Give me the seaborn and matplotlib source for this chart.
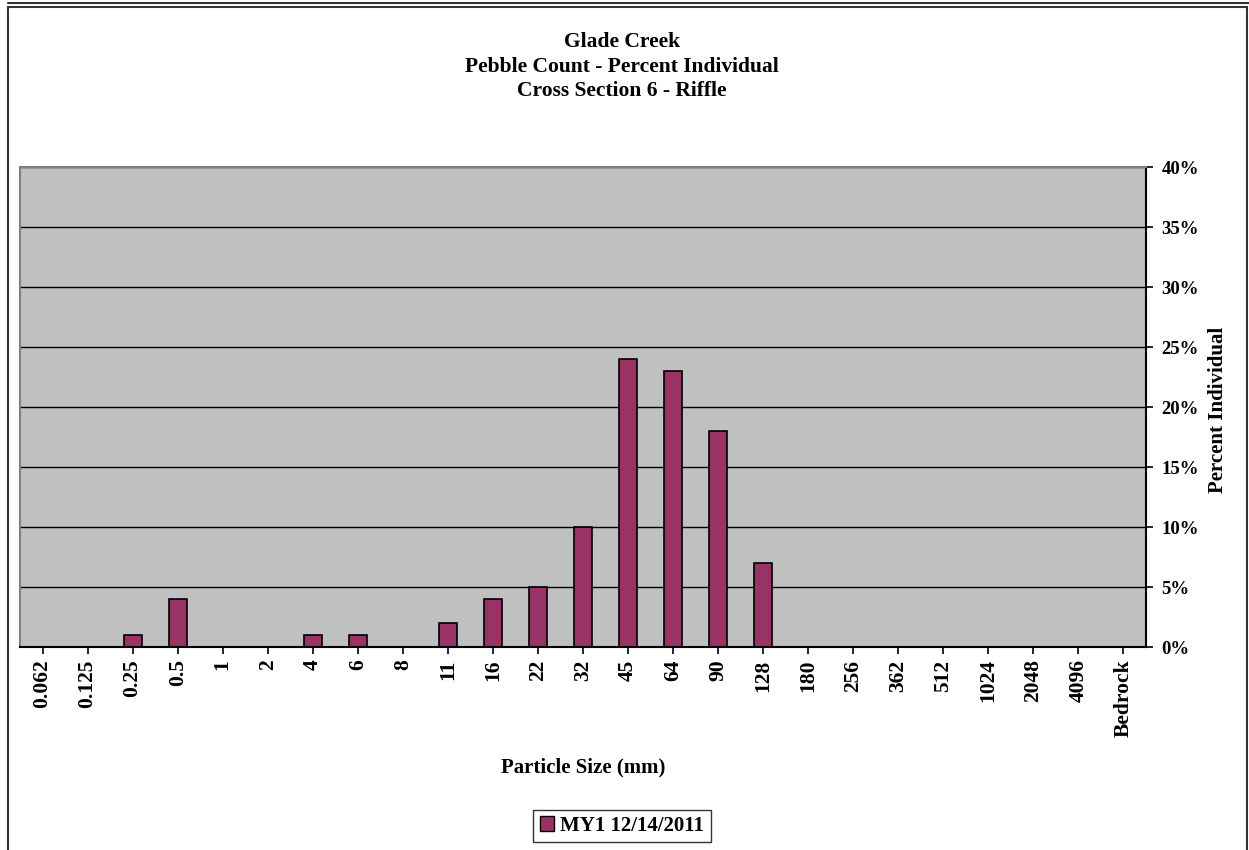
import matplotlib
matplotlib.use("Agg")
import matplotlib.pyplot as plt
import matplotlib.patches as mpatches
import matplotlib.lines as mlines
from matplotlib.ticker import MultipleLocator, PercentFormatter
import seaborn as sns
import pandas as pd

sizes = ["0.062", "0.125", "0.25", "0.5", "1", "2", "4", "6", "8", "11", "16", "22",
         "32", "45", "64", "90", "128", "180", "256", "362", "512", "1024", "2048",
         "4096", "Bedrock"]
percent = [0, 0, 1, 4, 0, 0, 1, 1, 0, 2, 4, 5, 10, 24, 23, 18, 7, 0, 0, 0, 0, 0, 0, 0, 0]
series_name = "MY1 12/14/2011"

df = pd.DataFrame({"size": sizes, "pct": percent})

sns.set_theme(style="white")
plt.rcParams["font.family"] = ["Liberation Serif", "DejaVu Serif"]
plt.rcParams["font.weight"] = "bold"
for key in ("text.color", "axes.labelcolor", "xtick.color", "ytick.color"):
    plt.rcParams[key] = "black"

W, H = 1249, 850
fig = plt.figure(figsize=(W / 100, H / 100), dpi=100)
ax = fig.add_axes([20 / W, 1 - 647 / H, (1146 - 20) / W, (647 - 167) / H])

bar_color = "#993366"
sns.barplot(data=df, x="size", y="pct", order=sizes, color=bar_color, width=0.4,
            edgecolor="black", linewidth=1.2, saturation=1, ax=ax)

ax.set_facecolor("#C0C0C0")
ax.set_xlim(-0.5, len(sizes) - 0.5)
ax.set_ylim(0, 40)
ax.yaxis.set_major_locator(MultipleLocator(5))
ax.yaxis.set_major_formatter(PercentFormatter(decimals=0))
ax.yaxis.tick_right()
ax.yaxis.set_label_position("right")
ax.grid(axis="y", color="black", linewidth=1.0)
ax.set_axisbelow(True)

for side in ("left", "top"):
    ax.spines[side].set_color("#808080")
    ax.spines[side].set_linewidth(1.5)
ax.spines["right"].set_color("black")
ax.spines["right"].set_linewidth(1.5)
ax.spines["bottom"].set_color("black")
ax.spines["bottom"].set_linewidth(1.5)

ax.tick_params(axis="x", direction="out", length=5, width=1.2, color="black",
               labelsize=15.5, rotation=90, pad=4, bottom=True)
ax.tick_params(axis="y", direction="out", length=5, width=1.2, color="black",
               labelsize=13.5, pad=6, right=True, left=False)
for lbl in ax.get_xticklabels() + ax.get_yticklabels():
    lbl.set_fontweight("bold")

ax.set_xlabel("Particle Size (mm)", fontsize=15, fontweight="bold", va="center")
ax.xaxis.set_label_coords(0.5, (647 - 767) / 480)
ax.set_ylabel("Percent Individual", fontsize=15, fontweight="bold", va="center")
ax.yaxis.set_label_coords((1218 - 20) / 1126, (647 - 410) / 480)

fig.text(622 / W, 1 - 32 / H,
         "Glade Creek\nPebble Count - Percent Individual\nCross Section 6 - Riffle",
         ha="center", va="top", fontsize=15.5, fontweight="bold", linespacing=1.3)

handle = mpatches.Patch(facecolor=bar_color, edgecolor="black", label=series_name)
leg = fig.legend(handles=[handle], loc="center", bbox_to_anchor=(622 / W, 1 - 826 / H),
                 frameon=True, fancybox=False, fontsize=15, handlelength=0.7,
                 handleheight=0.7, handletextpad=0.3, borderpad=0.3)
leg.get_frame().set_edgecolor("black")
leg.get_frame().set_linewidth(1.0)
for t in leg.get_texts():
    t.set_fontweight("bold")

# outer chart frame and the edge of the neighbouring frame above
fig.add_artist(mpatches.Rectangle((8 / W, -0.01), (1247 - 8) / W, 1 - 7 / H + 0.01,
                                  transform=fig.transFigure, fill=False,
                                  edgecolor="#333333", linewidth=1.5))
fig.add_artist(mlines.Line2D([8 / W, 1], [1 - 3 / H, 1 - 3 / H],
                             transform=fig.transFigure, color="#333333", linewidth=1.5))

fig.savefig("out.png", dpi=100)
